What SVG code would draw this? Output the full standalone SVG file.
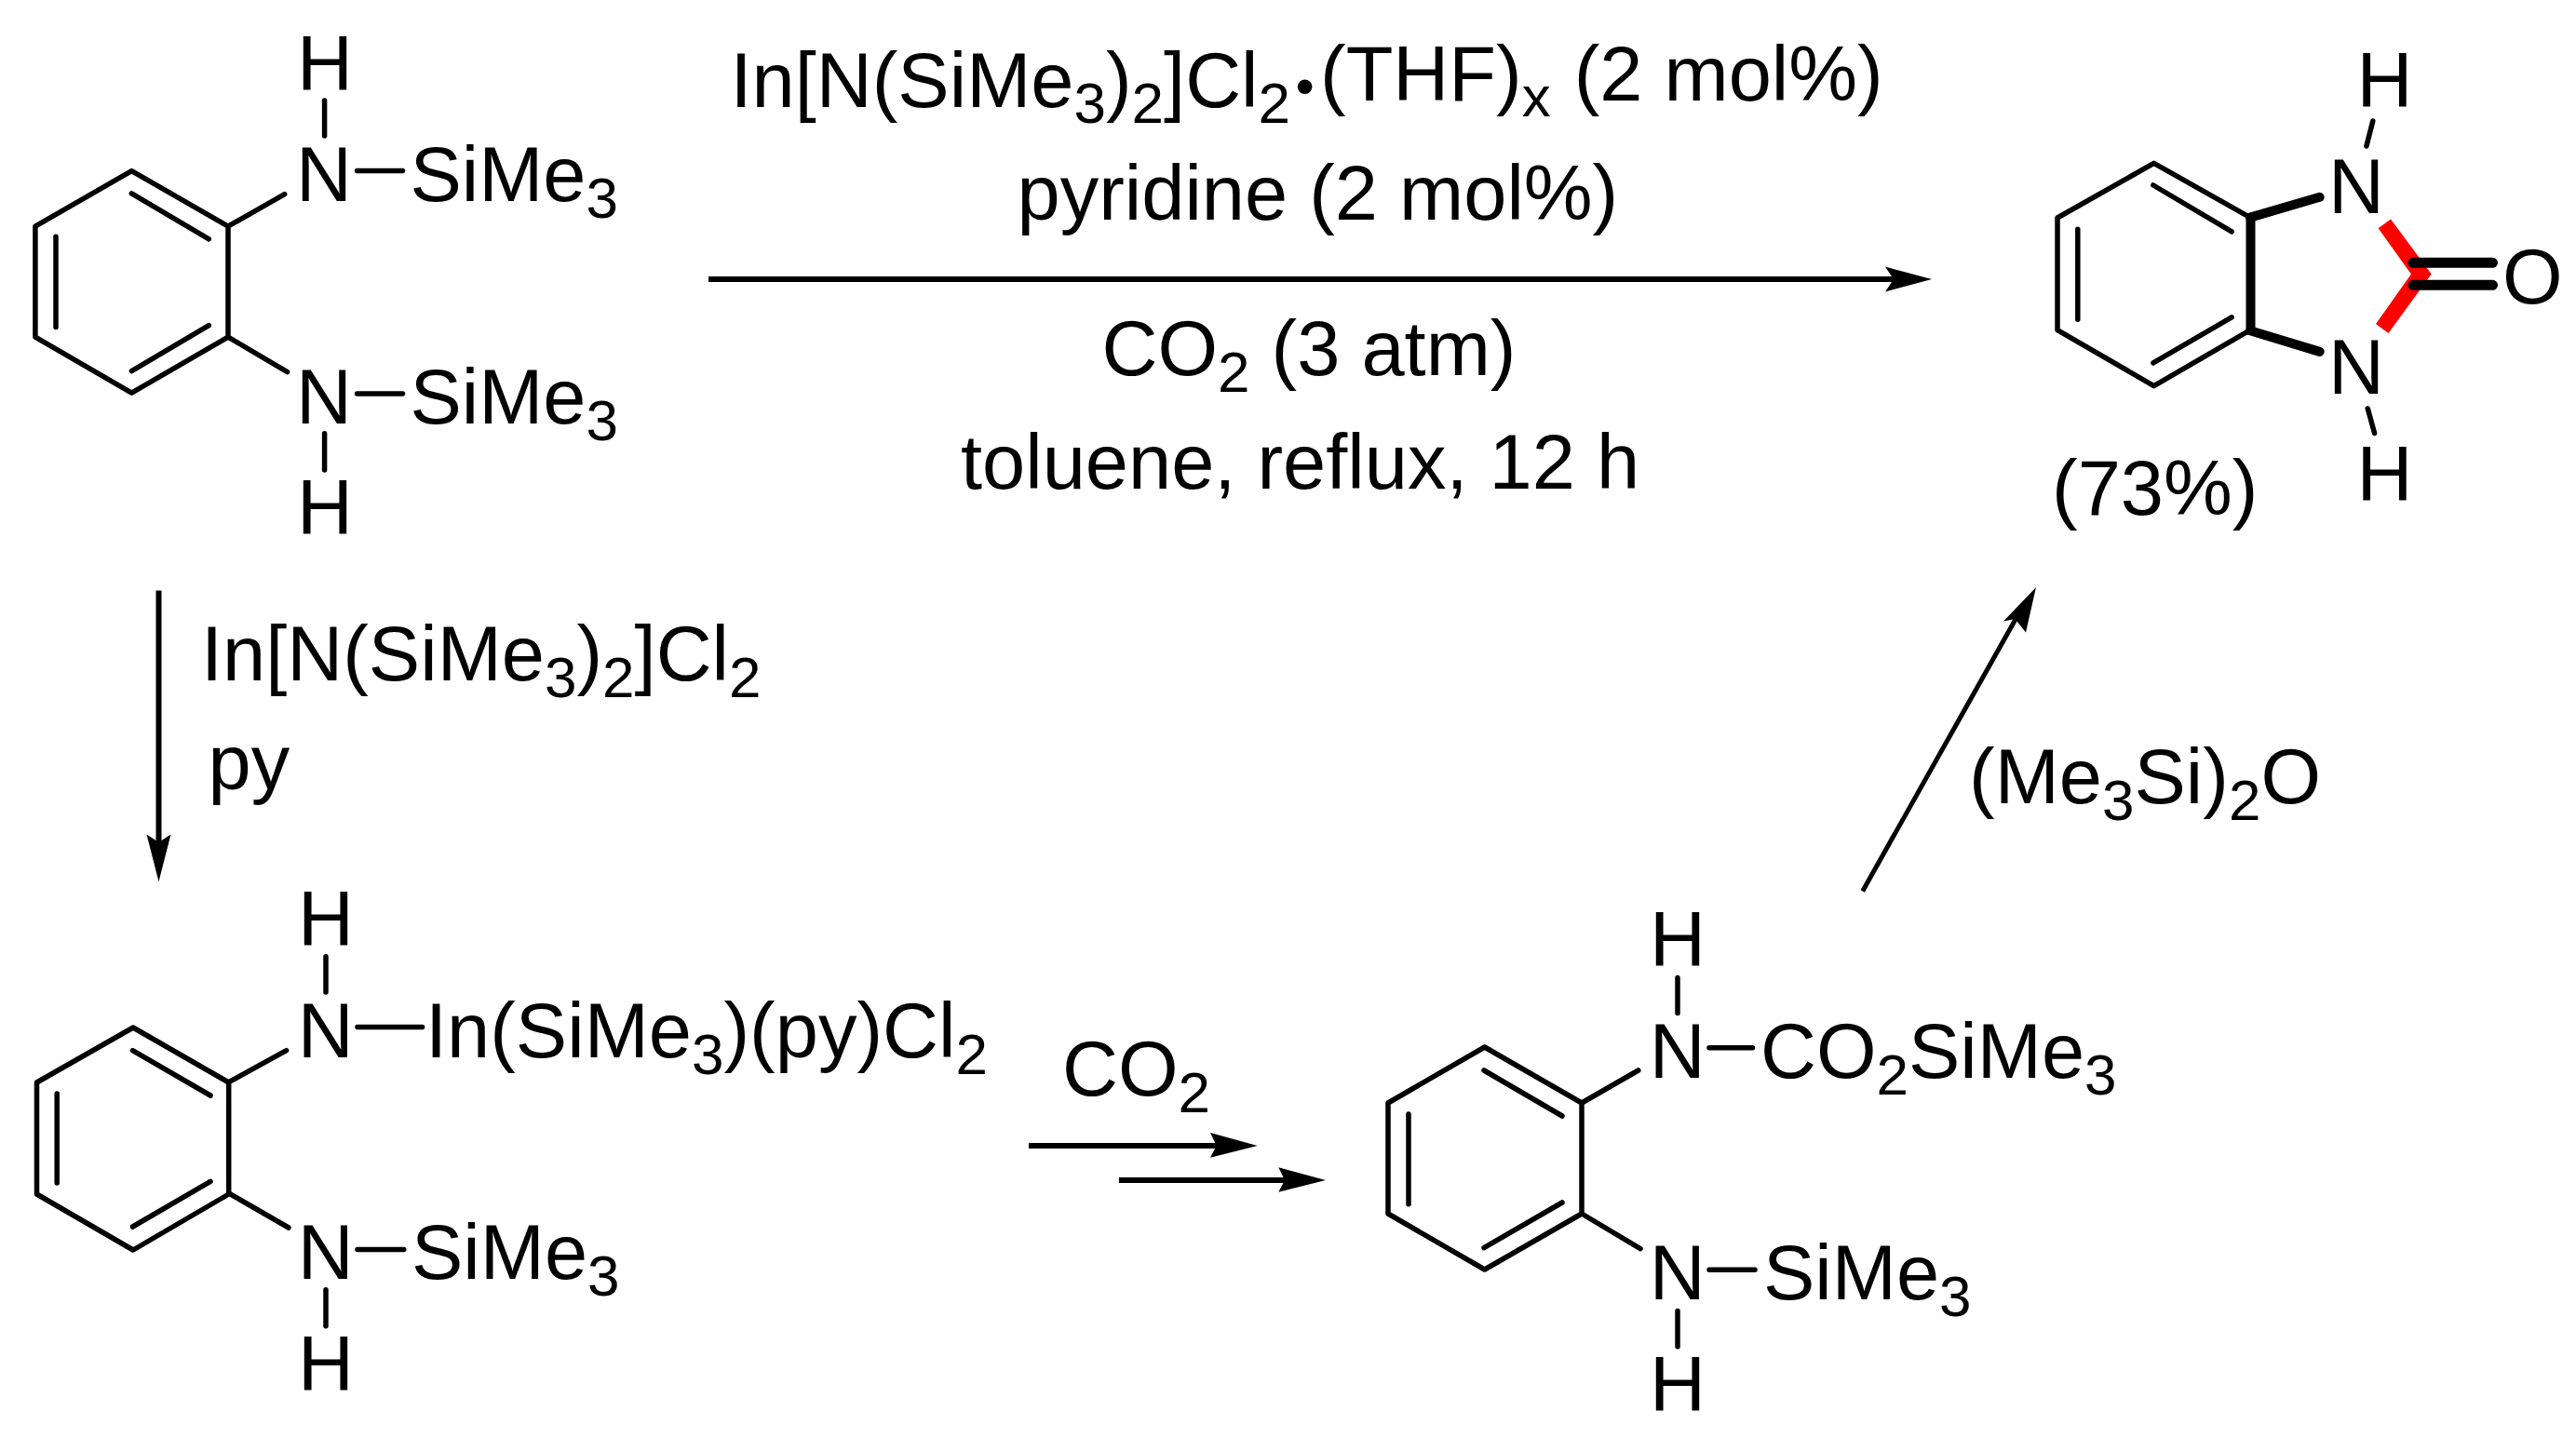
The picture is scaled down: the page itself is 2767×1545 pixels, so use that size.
<svg xmlns="http://www.w3.org/2000/svg" width="2767" height="1545" viewBox="0 0 2767 1545">
<style>
text{font-family:"Liberation Sans",Arial,sans-serif;font-size:83px;fill:#000}
.s{font-size:62px}
.d{font-size:58px}
.b{stroke:#000;stroke-width:5.500;fill:none;stroke-linecap:round;stroke-linejoin:round}
.a{stroke:#000;stroke-width:6;fill:none}
.t{stroke:#000;stroke-linecap:round;fill:none}
.ah{fill:#000}
</style>
<rect width="2767" height="1545" fill="#fff"/>
<g id="connectors">
<line class="a" x1="761" y1="300" x2="2040" y2="300"/><path class="ah" d="M2075 300L2025 286.500L2034 300L2025 313.500Z"/>
<line class="a" x1="170.500" y1="634.400" x2="170.500" y2="910"/><path class="ah" d="M170.500 947.300L157.500 896.600L170.500 905L183.500 896.600Z"/>
<line class="a" x1="1105" y1="1231" x2="1315" y2="1231"/><path class="ah" d="M1350.700 1231L1300 1217L1306.700 1231L1300 1243.700Z"/>
<line class="a" x1="1202" y1="1268" x2="1390" y2="1268"/><path class="ah" d="M1424 1268L1373.300 1254.300L1380 1268L1373.300 1280.700Z"/>
<line class="a" x1="2000.700" y1="957.400" x2="2168" y2="660" style="stroke-width:5"/><path class="ah" d="M2187 631L2152 667.500L2164.600 665L2176 679.600Z"/>
</g>
<g id="reactant">
<path class="b" d="M245 243.200L141.400 183.600L37.900 243.200V362.100L141.400 422.100L245 362.100ZM141.400 207.900L224.300 256.800M60 254.300V351.400M141.400 398.600L224.300 349.600M245 243.200L305.700 208.600M245 362.100L308.600 399.600M348.600 107.900V146M348.600 465.700V505M383.600 183.600H432.500M383.600 422.900H432.500"/>
<text x="319" y="96.800">H</text><text x="318" y="215.700">N</text><text x="440.400" y="215.700">SiMe<tspan class="s" dy="18">3</tspan></text>
<text x="318" y="455">N</text><text x="440.400" y="455">SiMe<tspan class="s" dy="18">3</tspan></text><text x="319" y="573.600">H</text>
</g>
<g id="conditions">
<text x="784.500" y="115">In[N(SiMe<tspan class="s" dy="17">3</tspan><tspan dy="-17">)</tspan><tspan class="s" dy="17">2</tspan><tspan dy="-17">]Cl</tspan><tspan class="s" dy="17">2</tspan><tspan class="d" x="1391.500" y="112">•</tspan><tspan x="1418" y="108">(THF)</tspan><tspan class="s" dy="17">x</tspan><tspan dy="-17" dx="2"> (2 mol%)</tspan></text>
<text x="1092.500" y="236">pyridine (2 mol%)</text>
<text x="1183.500" y="402.500">CO<tspan class="s" dy="18">2</tspan><tspan dy="-18"> (3 atm)</tspan></text>
<text x="1032" y="525">toluene, reflux, 12 h</text>
</g>
<g id="product">
<path class="b" d="M2417 233.600L2313.600 175.400L2210 234V354.600L2313.600 414.600L2417 354.600ZM2312.900 199L2397.200 248.800M2231.800 246.300V343.300M2312.900 389.900L2397.200 340.800M2548.800 130L2541.900 157M2543.300 439L2550.600 465.500"/>
<path class="t" d="M2417 233.600L2491.700 211.800M2417 355.300L2491.700 377.900" stroke-width="10"/>
<path d="M2417.500 229V359.500" stroke="#000" stroke-width="10" fill="none"/>
<path d="M2568 235.400L2611.700 294.600L2565.500 357.900L2552 348L2589.900 294.600L2554.600 245.200Z" fill="#f00"/>
<path class="t" d="M2592 282.300H2677.500M2592 306.300H2677.500" stroke-width="11"/>
<text x="2531.500" y="114.700">H</text><text x="2501" y="229.200">N</text><text x="2688" y="326">O</text><text x="2501" y="423.300">N</text><text x="2531.500" y="538.200">H</text>
<text x="2204" y="553.400">(73%)</text>
</g>
<g id="step1-reagents">
<text x="216" y="730.600">In[N(SiMe<tspan class="s" dy="18">3</tspan><tspan dy="-18">)</tspan><tspan class="s" dy="18">2</tspan><tspan dy="-18">]Cl</tspan><tspan class="s" dy="18">2</tspan></text>
<text x="223.500" y="847.600">py</text>
</g>
<g id="indium-intermediate">
<path class="b" d="M245.700 1163L143 1104L39.500 1163V1283L143 1343L245.700 1283ZM142.500 1128.600L226 1177M61.200 1175V1271M142.500 1318L226 1269.400M245.700 1162.700L307.600 1128.600M245.700 1282L310 1319M350 1027.800V1066M350 1385.800V1424.700M384 1103.600H453.600M384 1342.400H433.800"/>
<text x="320" y="1016">H</text><text x="319.700" y="1135.600">N</text><text x="457" y="1135.600">In(SiMe<tspan class="s" dy="18">3</tspan><tspan dy="-18">)(py)Cl</tspan><tspan class="s" dy="18">2</tspan></text>
<text x="319.700" y="1373.600">N</text><text x="442" y="1373.600">SiMe<tspan class="s" dy="18">3</tspan></text><text x="320" y="1493.600">H</text>
</g>
<g id="co2-label"><text x="1141" y="1177">CO<tspan class="s" dy="18">2</tspan></text></g>
<g id="silyl-carbamate">
<path class="b" d="M1699 1185L1594.700 1125L1491 1185V1304L1594.700 1364L1699 1304ZM1594 1150L1678 1199M1513 1197V1293.700M1594 1340.600L1678 1292M1699 1185L1759.800 1150M1699 1304L1762 1341.700M1802 1050.400V1088.600M1802 1408.400V1446.700M1836 1125.800H1882.500M1836 1364.300H1885"/>
<text x="1772" y="1038">H</text><text x="1771.700" y="1157.500">N</text><text x="1891" y="1157.500">CO<tspan class="s" dy="18">2</tspan><tspan dy="-18">SiMe</tspan><tspan class="s" dy="18">3</tspan></text>
<text x="1771.700" y="1396">N</text><text x="1894" y="1396">SiMe<tspan class="s" dy="18">3</tspan></text><text x="1772" y="1515.500">H</text>
</g>
<g id="silyl-ether"><text x="2115" y="863">(Me<tspan class="s" dy="18">3</tspan><tspan dy="-18">Si)</tspan><tspan class="s" dy="18">2</tspan><tspan dy="-18">O</tspan></text></g>
</svg>
